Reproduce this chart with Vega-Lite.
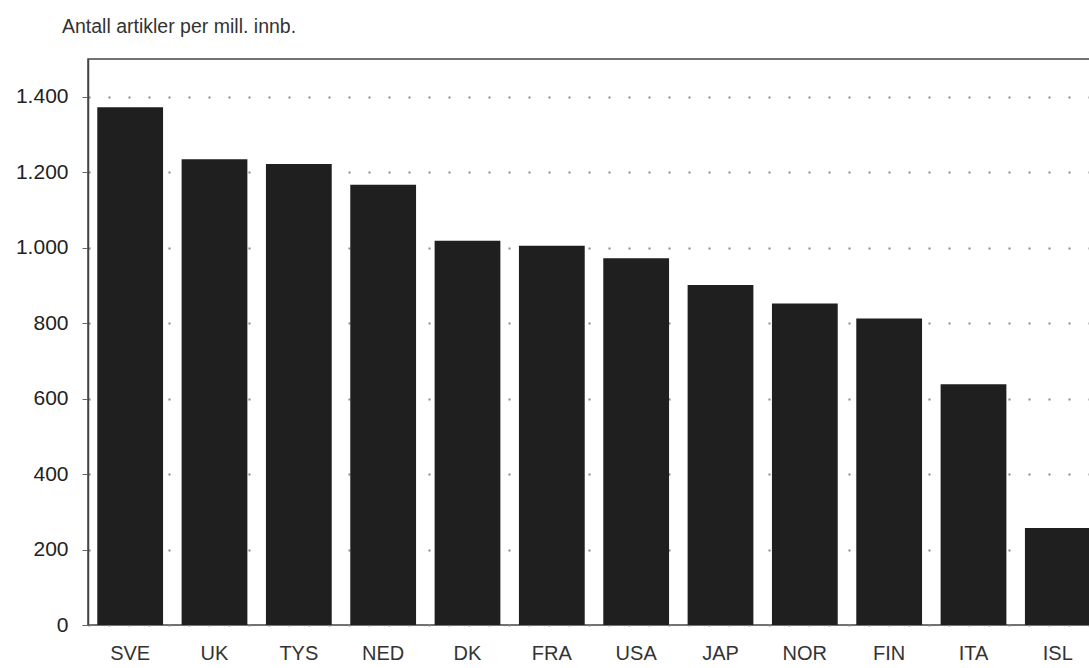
{
  "$schema": "https://vega.github.io/schema/vega-lite/v6.json",
  "autosize": {"type": "none"},
  "width": 1012,
  "height": 566,
  "padding": {"left": 88, "top": 59, "right": 0, "bottom": 43},
  "background": "white",
  "title": {
    "text": "Antall artikler per mill. innb.",
    "anchor": "start",
    "frame": "group",
    "dx": -26,
    "offset": 22,
    "fontSize": 19.5,
    "fontWeight": "normal",
    "font": "Liberation Sans",
    "color": "#333"
  },
  "data": {
    "values": [
      {"land": "SVE", "artikler": 1372},
      {"land": "UK", "artikler": 1234},
      {"land": "TYS", "artikler": 1222},
      {"land": "NED", "artikler": 1167},
      {"land": "DK", "artikler": 1018},
      {"land": "FRA", "artikler": 1005},
      {"land": "USA", "artikler": 972},
      {"land": "JAP", "artikler": 901},
      {"land": "NOR", "artikler": 852},
      {"land": "FIN", "artikler": 812},
      {"land": "ITA", "artikler": 638},
      {"land": "ISL", "artikler": 257}
    ]
  },
  "config": {
    "view": {"stroke": "#444", "strokeWidth": 1.5},
    "font": "Liberation Sans"
  },
  "mark": {"type": "bar", "color": "#1f1f1f"},
  "encoding": {
    "x": {
      "field": "land",
      "type": "nominal",
      "sort": null,
      "scale": {"paddingInner": 0.22, "paddingOuter": 0.11},
      "axis": {
        "title": null,
        "labelAngle": 0,
        "labelFontSize": 20,
        "labelColor": "#333",
        "labelPadding": 18,
        "ticks": false,
        "domain": false
      }
    },
    "y": {
      "field": "artikler",
      "type": "quantitative",
      "scale": {"domain": [0, 1500], "nice": false},
      "axis": {
        "title": null,
        "values": [0, 200, 400, 600, 800, 1000, 1200, 1400],
        "labelExpr": "replace(format(datum.value, ','), ',', '.')",
        "labelFontSize": 21,
        "labelColor": "#222",
        "labelPadding": 14,
        "tickSize": 6,
        "tickColor": "#666",
        "domainColor": "#444",
        "domainWidth": 1.5,
        "grid": true,
        "gridColor": "#888",
        "gridWidth": 2,
        "gridDash": [2, 18]
      }
    }
  }
}
